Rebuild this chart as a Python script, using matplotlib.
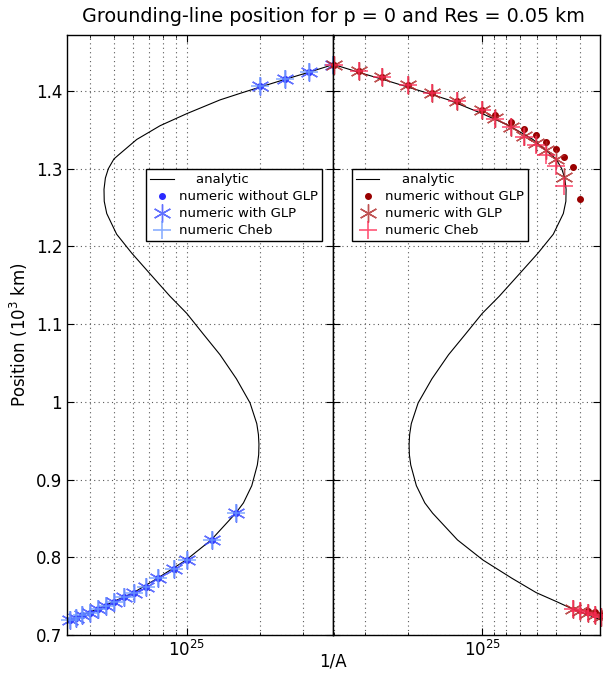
import numpy as np
import matplotlib
matplotlib.use("Agg")
import matplotlib.pyplot as plt
from matplotlib.ticker import FormatStrFormatter, NullFormatter, LogLocator


# ── Data (1/A in units of 1e24, position in 10^3 km) ─────────────────────────

# analytic steady-state curve, read bottom to top
ANA_POS = [0.717, 0.7193, 0.7257, 0.733, 0.743, 0.7545, 0.773, 0.7965, 0.8223,
           0.8568, 0.870, 0.8921, 0.9188, 0.932, 0.9453, 0.958, 0.9719, 0.9986,
           1.0296, 1.0606, 1.0871, 1.1138, 1.1359, 1.1648, 1.1914, 1.2157,
           1.2423, 1.258, 1.2734, 1.288, 1.2999, 1.3125, 1.3176, 1.3376,
           1.3553, 1.3708, 1.3885, 1.397, 1.405, 1.415, 1.424, 1.434]
ANA_INVA = [3.22, 3.30, 3.70, 4.27, 5.00, 6.04, 7.58, 9.94, 12.6,
            15.9, 17.1, 18.5, 19.5, 19.75, 19.8, 19.7, 19.4, 18.2,
            16.0, 13.7, 11.7, 10.0, 8.53, 7.06, 5.94, 5.15,
            4.69, 4.58, 4.57, 4.63, 4.76, 5.02, 5.24, 6.23,
            7.77, 10.0, 13.7, 16.6, 20.0, 25.4, 31.7, 40.0]

# 1/A values of the numerical runs
NUM_INVA = [3.3, 3.5, 3.72, 4.0, 4.3, 4.65, 5.02, 5.5, 6.05, 6.77, 7.62,
            8.85, 10.0, 12.65, 15.95, 20.05, 25.45, 31.75, 40.0]

# advance (left panel): all three schemes sit on the same points
ADV_POS = [0.7193, 0.7223, 0.7257, 0.7287, 0.733, 0.7373, 0.743, 0.7485,
           0.7545, 0.762, 0.773, 0.7845, 0.7965, 0.8223, 0.8566, 1.406,
           1.416, 1.425, 1.4336]

# retreat (right panel)
RET_NOGLP = [0.726, 0.729, 0.731, 1.2608, 1.302, 1.3148, 1.3251, 1.3349,
             1.3435, 1.3509, 1.3606, 1.369, 1.3757, 1.3877, 1.398, 1.4079,
             1.4177, 1.4263, 1.4336]
RET_GLP = [0.7235, 0.726, 0.7285, 0.731, 0.734, 1.2899, 1.3122, 1.3242,
           1.3336, 1.3422, 1.3542, 1.365, 1.3757, 1.3877, 1.398, 1.4079,
           1.4177, 1.4263, 1.4336]
RET_CHEB = [0.7235, 0.726, 0.7285, 0.731, 0.734, 1.278, 1.303, 1.318,
            1.330, 1.341, 1.353, 1.364, 1.3757, 1.3877, 1.398, 1.4079,
            1.4177, 1.4263, 1.4336]

Y_TICKS = [0.7, 0.8, 0.9, 1.0, 1.1, 1.2, 1.3, 1.4]

SCALE = 1e24
STAR = (6, 2, 0)
GRID = dict(color="0.35", ls=(0, (1, 3)), lw=0.8)


# ── Figure ───────────────────────────────────────────────────────────────────

fig = plt.figure(figsize=(6.03, 6.75), dpi=100)
ax_l = fig.add_axes([67 / 603, 40 / 675, 266 / 603, 600 / 675])
ax_r = fig.add_axes([333 / 603, 40 / 675, 267 / 603, 600 / 675], sharey=ax_l)

ana_x = np.array(ANA_INVA) * SCALE
num_x = np.array(NUM_INVA) * SCALE

# left: advance
ax_l.plot(ana_x, ANA_POS, "k-", lw=0.8, label="    analytic")
ax_l.plot(num_x, ADV_POS, "o", color="#2a2aff", ms=4, mec="#2a2aff",
          clip_on=False, label="numeric without GLP")
ax_l.plot(num_x, ADV_POS, ls="none", marker=STAR, color="#3a4cff", ms=13,
          mew=1.0, alpha=0.8, clip_on=False, label="numeric with GLP")
ax_l.plot(num_x, ADV_POS, ls="none", marker="+", color="#6e9bff", ms=13,
          mew=1.2, alpha=0.8, clip_on=False, label="numeric Cheb")

# right: retreat
ax_r.plot(ana_x, ANA_POS, "k-", lw=0.8, label="    analytic")
ax_r.plot(num_x, RET_NOGLP, "o", color="#990000", ms=4, mec="#990000",
          clip_on=False, label="numeric without GLP")
ax_r.plot(num_x, RET_GLP, ls="none", marker=STAR, color="#b02828", ms=13,
          mew=1.0, alpha=0.8, clip_on=False, label="numeric with GLP")
ax_r.plot(num_x, RET_CHEB, ls="none", marker="+", color="#ff2a55", ms=13,
          mew=1.2, alpha=0.8, clip_on=False, label="numeric Cheb")

for ax in (ax_l, ax_r):
    ax.set_xscale("log")
    ax.xaxis.set_major_locator(LogLocator(base=10))
    ax.xaxis.set_minor_locator(LogLocator(base=10, subs=np.arange(2, 10)))
    ax.xaxis.set_minor_formatter(NullFormatter())
    ax.grid(True, which="major", **GRID)
    ax.grid(True, which="minor", axis="x", **GRID)
    ax.tick_params(which="both", direction="in", top=True, right=True,
                   labelsize=12)
    ax.tick_params(which="major", length=5)
    ax.tick_params(which="minor", length=2.5)
    for s in ax.spines.values():
        s.set_linewidth(1.0)
    ax.legend(loc="upper left", bbox_to_anchor=(0.297 if ax is ax_l else 0.07, 0.776),
              fontsize=9.5, fancybox=False, framealpha=1, edgecolor="black",
              numpoints=1, handlelength=1.8, handletextpad=0.4,
              borderpad=0.3, labelspacing=0.3, borderaxespad=0)

ax_l.set_xlim(3.22e24, 3.99e25)
ax_r.set_xlim(4.03e25, 3.33e24)
ax_l.set_ylim(0.7, 1.472)
ax_l.set_yticks(Y_TICKS)
ax_l.yaxis.set_major_formatter(FormatStrFormatter("%g"))
ax_r.tick_params(labelleft=False)

ax_l.set_ylabel("Position (10$^3$ km)", fontsize=12)
fig.text(333 / 603, 1 - 662 / 675, "1/A", ha="center", va="center", fontsize=12)
fig.text(333 / 603, 1 - 17 / 675,
         "Grounding-line position for p = 0 and Res = 0.05 km",
         ha="center", va="center", fontsize=13.8)

fig.savefig("out.png", dpi=100)
